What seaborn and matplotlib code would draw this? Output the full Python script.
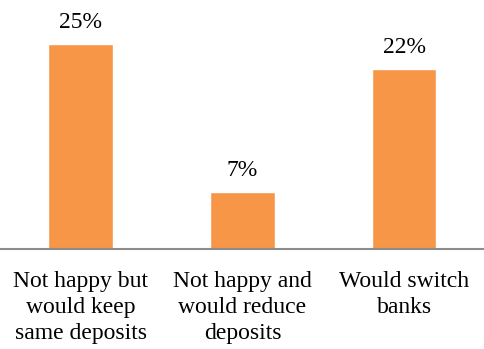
import matplotlib
matplotlib.use("Agg")
import matplotlib.pyplot as plt
import seaborn as sns
import pandas as pd

categories = ["Not happy but\nwould keep\nsame deposits",
              "Not happy and\nwould reduce\ndeposits",
              "Would switch\nbanks"]
values = [25, 7, 22]
labels = ["25%", "7%", "22%"]

df = pd.DataFrame({"category": categories, "value": values})

sns.set_style("white")
plt.rcParams["font.family"] = ["Liberation Serif", "DejaVu Serif"]

fig = plt.figure(figsize=(4.85, 3.49), dpi=100)
ax = fig.add_axes([0, 1 - 249 / 349, 1, 249 / 349])

sns.barplot(data=df, x="category", y="value", color="#F79646",
            saturation=1, width=0.4, ax=ax)

for patch, text in zip(ax.patches, labels):
    ax.annotate(text, (patch.get_x() + patch.get_width() / 2, patch.get_height()),
                xytext=(0, 8), textcoords="offset points",
                ha="center", va="bottom", fontsize=17, color="black")

ax.set_xlim(-0.5, 2.5)
ax.set_ylim(0, 30.4)
ax.set_xlabel("")
ax.set_ylabel("")
ax.set_yticks([])
ax.tick_params(axis="x", length=0, pad=16, labelsize=17, colors="black")
for lbl in ax.get_xticklabels():
    lbl.set_linespacing(1.3)

for side in ["top", "right", "left"]:
    ax.spines[side].set_visible(False)
ax.spines["bottom"].set_color("#8C8C8C")
ax.spines["bottom"].set_linewidth(1.5)

fig.savefig("out.png", dpi=100)
